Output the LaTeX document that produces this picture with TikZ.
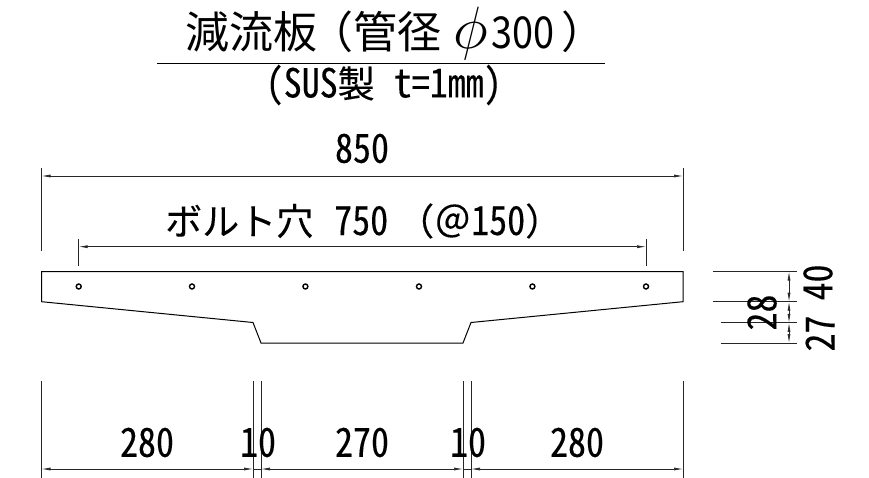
\documentclass[tikz,border=0pt]{standalone}
\usepackage{fontspec}
\setmainfont{Noto Sans CJK JP}
\newfontfamily\gothic[FakeBold=0.15]{Noto Sans Mono CJK JP}
\newfontfamily\gothicnarrow[FakeStretch=0.9,FakeBold=0.15]{Noto Sans Mono CJK JP}
\newfontfamily\titledigits[FakeStretch=0.86]{Noto Sans CJK JP}
\newcommand{\dimfont}{\gothicnarrow\fontsize{40}{40}\selectfont}
\newcommand{\kanafont}{\gothic\fontsize{37}{37}\selectfont}
\usetikzlibrary{arrows.meta}
\tikzset{
  x=1pt,y=-1pt,
  part/.style={line width=1pt,draw=black},
  extline/.style={line width=0.8pt,draw=black!85},
  dimbase/.style={line width=0.7pt,draw=black!85},
  dimline/.style={dimbase,{Latex[length=9pt,width=3pt]}-{Latex[length=9pt,width=3pt]}},
  dimtext/.style={inner sep=0pt,font=\dimfont,text=black},
  titletext/.style={inner sep=0pt,font=\fontsize{44}{44}\selectfont,text=black},
  boltsym/.style={circle,draw=black,line width=1.4pt,inner sep=0pt,minimum size=5pt},
}
\begin{document}
\begin{tikzpicture}
\useasboundingbox (0,0) rectangle (869,478);
\node[titletext,anchor=west] (title) at (185,34) {減流板\hspace{-8pt}（管径\hspace{12pt}\scalebox{2.4}{$\phi$}\hspace{4pt}{\titledigits 300}\hspace{7pt}）};
\coordinate (ruleL) at (157,63.5);
\coordinate (ruleR) at (605,63.5);
\draw[line width=1pt] (ruleL) -- (ruleR);
\node[dimtext,anchor=west] (sub) at (265.5,85) {(SUS{\kanafont 製}\hspace{19pt}t=1mm)};

\draw[part] (41.5,271.5) -- (683,271.5) -- (683,301.7) -- (471,322.5) -- (463,343) -- (261,343) -- (253,322.5) -- (41.5,301.7) -- cycle;
\foreach \n/\x in {a/78.7,b/192,c/305.4,d/419,e/532.4,f/646}{
  \node[boltsym] (h\n) at (\x,286.5) {};
}

% 850
\coordinate (a1) at (41.5,168); \coordinate (a2) at (41.5,251);
\coordinate (b1) at (683,168); \coordinate (b2) at (683,251);
\draw[extline] (a1) -- (a2);
\draw[extline] (b1) -- (b2);
\coordinate (dA) at (41.5,176); \coordinate (dB) at (683,176);
\draw[dimline] (dA) -- (dB);
\node[dimtext] (t850) at (362,148.5) {850};

% 750
\coordinate (c1) at (78.7,239); \coordinate (c2) at (78.7,266);
\coordinate (e1) at (646,239); \coordinate (e2) at (646,266);
\draw[extline] (c1) -- (c2);
\draw[extline] (e1) -- (e2);
\coordinate (dC) at (78.7,246.7); \coordinate (dE) at (646,246.7);
\draw[dimline] (dC) -- (dE);
\node[dimtext,anchor=west] (t750) at (165,221) {{\kanafont ボルト穴}\hspace{21pt}750\hspace{9pt}{\kanafont （＠}150{\kanafont ）}};

% bottom
\foreach \n/\x in {p/41.5,q/253,r/261,s/463,u/471,v/683}{
  \coordinate (\n1) at (\x,381);
  \coordinate (\n2) at (\x,478);
  \draw[extline] (\n1) -- (\n2);
  \coordinate (\n3) at (\x,469);
}
\draw[dimline] (p3) -- (q3);
\draw[dimbase] (q3) -- (r3);
\draw[dimline] (r3) -- (s3);
\draw[dimbase] (s3) -- (u3);
\draw[dimline] (u3) -- (v3);
\node[dimtext] (t280a) at (147,442.5) {280};
\node[dimtext] (t10a) at (258,442.5) {10};
\node[dimtext] (t270) at (362,442.5) {270};
\node[dimtext] (t10b) at (468,442.5) {10};
\node[dimtext] (t280b) at (577,442.5) {280};

% right
\coordinate (k1) at (713,271.5); \coordinate (k2) at (797,271.5);
\coordinate (l1) at (713,301.7); \coordinate (l2) at (797,301.7);
\coordinate (m1) at (721,322.8); \coordinate (m2) at (797,322.8);
\coordinate (n1) at (721,343); \coordinate (n2) at (797,343);
\draw[extline] (k1) -- (k2);
\draw[extline] (l1) -- (l2);
\draw[extline] (m1) -- (m2);
\draw[extline] (n1) -- (n2);
\coordinate (k3) at (789,271.5); \coordinate (l3) at (789,301.7);
\coordinate (m3) at (789,322.8); \coordinate (n3) at (789,343);
\draw[dimline] (k3) -- (l3);
\draw[dimline] (l3) -- (m3);
\draw[dimline] (m3) -- (n3);
\node[dimtext,rotate=90] (t40) at (818,282.5) {40};
\node[dimtext,rotate=90] (t27) at (820,333.5) {27};
\node[dimtext,rotate=90] (t28) at (762,312.5) {28};
\end{tikzpicture}
\end{document}
